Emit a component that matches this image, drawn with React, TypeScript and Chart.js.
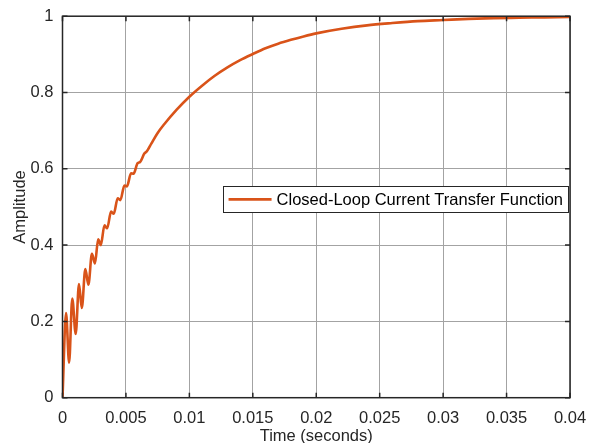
import React, { useEffect, useRef } from 'react';
import { Chart, registerables } from 'chart.js';

Chart.register(...registerables);

// ---- data ----
const timeSec = [
  0, 0.00028, 0.00052, 0.00077, 0.00104, 0.0013, 0.00152, 0.0018, 0.00204, 0.00232,
  0.00256, 0.00281, 0.00302, 0.00331, 0.00352, 0.00383, 0.00404, 0.00435, 0.00456, 0.00488,
  0.00508, 0.0054, 0.0056, 0.00592, 0.00612, 0.00645, 0.00665, 0.007, 0.0075, 0.008,
  0.009, 0.01, 0.011, 0.012, 0.013, 0.014, 0.015, 0.016, 0.017, 0.018,
  0.019, 0.02, 0.022, 0.024, 0.026, 0.028, 0.03, 0.032, 0.034, 0.036,
  0.038, 0.04,
];
const amplitude = [
  0, 0.222, 0.092, 0.26, 0.167, 0.298, 0.235, 0.337, 0.296, 0.377,
  0.352, 0.415, 0.4, 0.452, 0.444, 0.488, 0.482, 0.523, 0.518, 0.556,
  0.554, 0.588, 0.587, 0.615, 0.618, 0.64, 0.646, 0.666, 0.694, 0.716,
  0.755, 0.789, 0.818, 0.844, 0.866, 0.885, 0.901, 0.916, 0.928, 0.938,
  0.947, 0.955, 0.967, 0.976, 0.982, 0.987, 0.99, 0.993, 0.995, 0.996,
  0.997, 0.998,
];
const xTickValues = [0, 0.005, 0.01, 0.015, 0.02, 0.025, 0.03, 0.035, 0.04];
const xTickLabels = ['0', '0.005', '0.01', '0.015', '0.02', '0.025', '0.03', '0.035', '0.04'];
const yTickValues = [0, 0.2, 0.4, 0.6, 0.8, 1];
const yTickLabels = ['0', '0.2', '0.4', '0.6', '0.8', '1'];
const seriesLabel = 'Closed-Loop Current Transfer Function';
const xTitle = 'Time (seconds)';
const yTitle = 'Amplitude';

const LINE_COLOR = '#D95319';
const TEXT_COLOR = '#262626';
const GRID_COLOR = '#a3a3a3';
const FONT_FAMILY = "'Liberation Sans', Arial, Helvetica, sans-serif";
const FONT_SIZE = 16.5;

const boxPlugin = {
  id: 'matlabBox',
  afterDatasetsDraw(chart: any) {
    const { ctx, chartArea: a, scales } = chart;
    ctx.save();
    ctx.strokeStyle = TEXT_COLOR;
    ctx.lineWidth = 1.5;
    // inner ticks on all four sides
    const tl = 5;
    ctx.beginPath();
    xTickValues.forEach((v) => {
      const px = scales.x.getPixelForValue(v);
      ctx.moveTo(px, a.bottom);
      ctx.lineTo(px, a.bottom - tl);
      ctx.moveTo(px, a.top);
      ctx.lineTo(px, a.top + tl);
    });
    yTickValues.forEach((v) => {
      const py = scales.y.getPixelForValue(v);
      ctx.moveTo(a.left, py);
      ctx.lineTo(a.left + tl, py);
      ctx.moveTo(a.right, py);
      ctx.lineTo(a.right - tl, py);
    });
    ctx.stroke();
    ctx.strokeRect(a.left, a.top, a.right - a.left, a.bottom - a.top);
    ctx.restore();
  },
};

const legendPlugin = {
  id: 'matlabLegend',
  afterDraw(chart: any) {
    const { ctx, chartArea: a } = chart;
    const ds = chart.data.datasets[0];
    ctx.save();
    ctx.font = `${FONT_SIZE}px ${FONT_FAMILY}`;
    const textW = ctx.measureText(ds.label).width;
    const padL = 6, lineLen = 43, gap = 5, padR = 5, h = 26;
    const w = padL + lineLen + gap + textW + padR;
    const right = a.right - 2;
    const left = right - w;
    const top = a.top + (a.bottom - a.top) * 0.446;
    ctx.fillStyle = '#ffffff';
    ctx.fillRect(left, top, w, h);
    ctx.strokeStyle = TEXT_COLOR;
    ctx.lineWidth = 1;
    ctx.strokeRect(Math.round(left) + 0.5, Math.round(top) + 0.5, Math.round(w), h);
    const cy = top + h / 2;
    ctx.strokeStyle = ds.borderColor;
    ctx.lineWidth = ds.borderWidth;
    ctx.beginPath();
    ctx.moveTo(left + padL, cy);
    ctx.lineTo(left + padL + lineLen, cy);
    ctx.stroke();
    ctx.fillStyle = '#000000';
    ctx.textBaseline = 'middle';
    ctx.textAlign = 'left';
    ctx.fillText(ds.label, left + padL + lineLen + gap, cy + 1);
    ctx.restore();
  },
};

export default function App() {
  const canvasRef = useRef<HTMLCanvasElement | null>(null);

  useEffect(() => {
    if (!canvasRef.current) return;
    const font = { family: FONT_FAMILY, size: FONT_SIZE };
    const chart = new Chart(canvasRef.current, {
      type: 'line',
      data: {
        datasets: [
          {
            label: seriesLabel,
            data: timeSec.map((t, i) => ({ x: t, y: amplitude[i] })),
            borderColor: LINE_COLOR,
            backgroundColor: LINE_COLOR,
            borderWidth: 2.6,
            pointRadius: 0,
            cubicInterpolationMode: 'monotone',
            fill: false,
          },
        ],
      },
      options: {
        responsive: false,
        animation: false,
        layout: { padding: { left: 0, top: 16.2, right: 24, bottom: 0 } },
        plugins: {
          legend: { display: false },
          tooltip: { enabled: false },
        },
        scales: {
          x: {
            type: 'linear',
            min: 0,
            max: 0.04,
            afterBuildTicks: (s: any) => {
              s.ticks = xTickValues.map((v) => ({ value: v }));
            },
            afterFit: (s: any) => {
              s.height = 45.3;
              s.paddingLeft = 0;
              s.paddingRight = 0;
            },
            ticks: {
              autoSkip: false,
              maxRotation: 0,
              padding: 11,
              color: TEXT_COLOR,
              font,
              callback: (v: any) => xTickLabels[xTickValues.indexOf(v)] ?? '',
            },
            grid: { color: GRID_COLOR, lineWidth: 1, drawTicks: false },
            border: { display: false },
            title: {
              display: true,
              text: xTitle,
              color: TEXT_COLOR,
              font: { ...font, lineHeight: 1 },
              padding: { top: 0, bottom: -2 },
            },
          },
          y: {
            type: 'linear',
            min: 0,
            max: 1,
            afterBuildTicks: (s: any) => {
              s.ticks = yTickValues.map((v) => ({ value: v }));
            },
            afterFit: (s: any) => {
              s.width = 62.5;
              s.paddingTop = 0;
              s.paddingBottom = 0;
            },
            ticks: {
              autoSkip: false,
              padding: 9,
              color: TEXT_COLOR,
              font,
              callback: (v: any) => yTickLabels[yTickValues.indexOf(v)] ?? '',
            },
            grid: { color: GRID_COLOR, lineWidth: 1, drawTicks: false },
            border: { display: false },
            title: {
              display: true,
              text: yTitle,
              color: TEXT_COLOR,
              font: { ...font, lineHeight: 1 },
              padding: { top: 12, bottom: 0 },
            },
          },
        },
      },
      plugins: [boxPlugin, legendPlugin],
    } as any);
    return () => chart.destroy();
  }, []);

  return (
    <div style={{ position: 'fixed', left: 0, top: 0, width: 594, height: 443, background: '#ffffff' }}>
      <canvas ref={canvasRef} width={594} height={443} style={{ display: 'block' }} />
    </div>
  );
}
